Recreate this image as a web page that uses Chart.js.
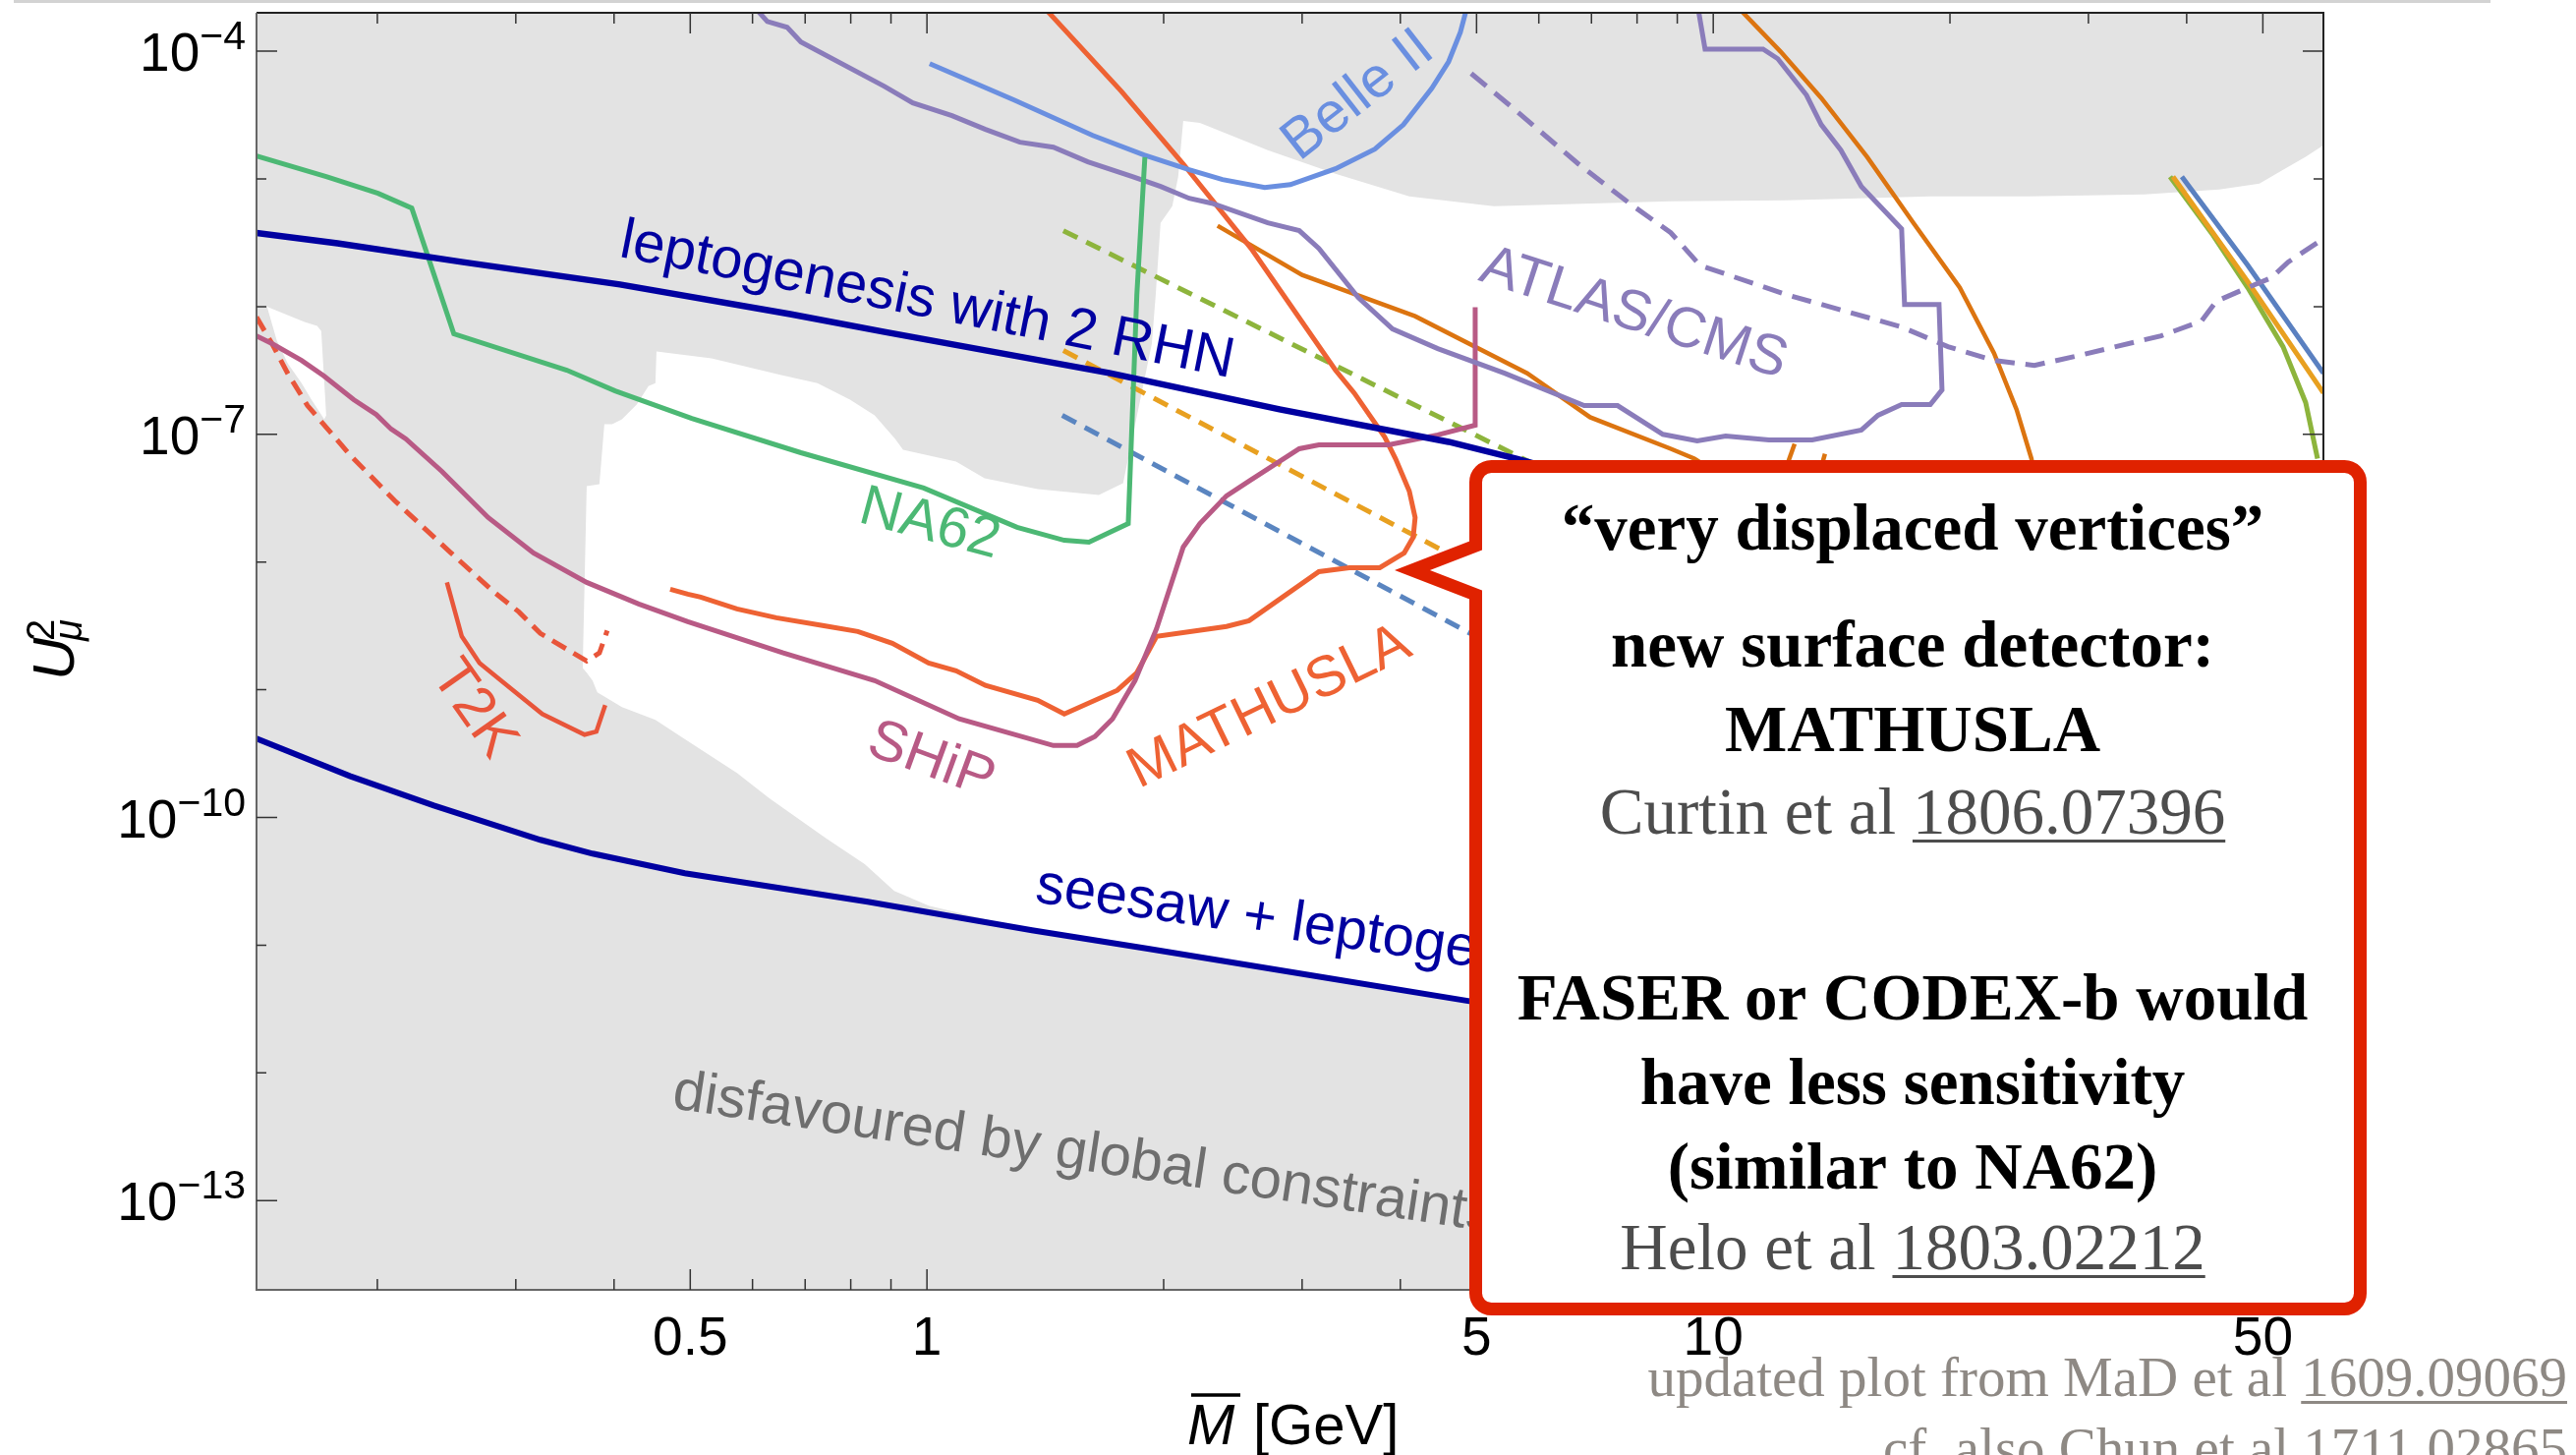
<!DOCTYPE html>
<html>
<head>
<meta charset="utf-8">
<script src="https://cdn.jsdelivr.net/npm/chart.js@4.4.1/dist/chart.umd.min.js"></script>
<style>
html, body { margin: 0; padding: 0; background: #fff; }
canvas { display: block; }
</style>
</head>
<body>
<canvas id="chart" width="2621" height="1480"></canvas>
<script>
// mass M in GeV, mixing U_mu^2

var leptoM = [0.1404, 0.178, 0.257, 0.407, 0.670, 0.883, 1.711, 2.808, 4.607, 5.62, 8.83];
var leptoU = [3.78e-6, 3.13e-6, 2.23e-6, 1.49e-6, 8.73e-7, 6.34e-7, 3.01e-7, 1.57e-7, 8.73e-8, 6.45e-8, 3.01e-8];

var seesawM = [0.1404, 0.1845, 0.236, 0.3224, 0.3756, 0.4921, 0.8407, 1.36, 1.91, 3.185, 4.876, 6.62];
var seesawU = [4.15e-10, 2.11e-10, 1.24e-10, 6.68e-11, 5.21e-11, 3.66e-11, 2.19e-11, 1.31e-11, 9.37e-12, 5.61e-12, 3.66e-12, 2.76e-12];

var na62M = [0.1404, 0.1726, 0.2004, 0.2212, 0.2502, 0.3483, 0.4013, 0.5023, 0.6914, 0.9905, 1.302, 1.495, 1.607, 1.803, 1.849, 1.893];
var na62U = [1.51e-5, 1.04e-5, 7.71e-6, 5.91e-6, 6.12e-7, 3.18e-7, 2.19e-7, 1.33e-7, 7.18e-8, 3.80e-8, 1.87e-8, 1.48e-8, 1.43e-8, 2.00e-8, 1.24e-6, 1.48e-5];

var belleM = [1.008, 1.291, 1.625, 1.888, 2.155, 2.376, 2.689, 2.898, 3.308, 3.712, 4.036, 4.386, 4.607, 4.769, 4.87];
var belleU = [7.99e-5, 4.15e-5, 2.19e-5, 1.54e-5, 1.18e-5, 9.89e-6, 8.57e-6, 9.03e-6, 1.20e-5, 1.71e-5, 2.66e-5, 5.13e-5, 8.28e-5, 1.41e-4, 2.3e-4];

var atlasM = [0.60, 0.6266, 0.6641, 0.6914, 0.8829, 0.9594, 1.076, 1.187, 1.313, 1.448, 1.602, 1.829, 1.982, 2.155, 2.302, 2.713, 2.975, 3.151, 3.535, 3.909, 4.463, 5.428, 6.852, 7.556, 8.629, 9.541, 10.37, 11.77, 13.36, 15.43, 16.20, 17.36, 18.88, 19.54, 19.37, 17.51, 17.36, 15.43, 14.53, 13.72, 13.14, 12.08, 11.57, 9.763, 9.55];
var atlasU = [2.3e-4, 1.71e-4, 1.54e-4, 1.18e-4, 5.31e-5, 3.94e-5, 3.13e-5, 2.44e-5, 1.94e-5, 1.77e-5, 1.36e-5, 1.04e-5, 8.73e-6, 7.05e-6, 6.45e-6, 4.53e-6, 3.94e-6, 2.86e-6, 1.18e-6, 6.69e-7, 4.69e-7, 3.01e-7, 1.68e-7, 1.68e-7, 1.00e-7, 8.87e-8, 9.70e-8, 9.04e-8, 9.04e-8, 1.08e-7, 1.41e-7, 1.71e-7, 1.71e-7, 2.23e-7, 1.04e-6, 1.04e-6, 4.07e-6, 8.73e-6, 1.68e-5, 2.66e-5, 4.53e-5, 8.73e-5, 1.04e-4, 1.04e-4, 2.3e-4];

var atlasDashM = [4.922, 5.618, 6.737, 7.823, 8.830, 9.541, 9.763, 12.40, 17.36, 19.88, 22.76, 25.61, 28.82, 37.12, 41.78, 43.62, 47.83, 51.25, 53.82, 59.7];
var atlasDashU = [6.69e-5, 3.41e-5, 1.31e-5, 6.45e-6, 3.79e-6, 2.23e-6, 2.04e-6, 1.24e-6, 6.93e-7, 4.86e-7, 3.79e-7, 3.47e-7, 4.07e-7, 5.91e-7, 7.71e-7, 1.10e-6, 1.41e-6, 1.68e-6, 2.23e-6, 3.41e-6];

var shipM = [0.1404, 0.1469, 0.1602, 0.1711, 0.1866, 0.1994, 0.2082, 0.2174, 0.2416, 0.2767, 0.3159, 0.3692, 0.43, 0.4965, 0.6565, 0.858, 1.099, 1.448, 1.552, 1.635, 1.722, 1.839, 1.959, 2.118, 2.224, 2.404, 2.568, 2.975, 3.151, 3.865, 4.463, 4.980, 4.980];
var shipU = [5.9e-7, 5.13e-7, 3.79e-7, 2.86e-7, 1.87e-7, 1.43e-7, 1.10e-7, 9.21e-8, 5.13e-8, 2.23e-8, 1.18e-8, 6.93e-9, 4.70e-9, 3.41e-9, 1.94e-9, 1.18e-9, 5.92e-10, 3.66e-10, 3.66e-10, 4.30e-10, 5.92e-10, 1.18e-9, 3.01e-9, 1.31e-8, 2.00e-8, 3.30e-8, 4.30e-8, 7.71e-8, 8.28e-8, 8.28e-8, 9.89e-8, 1.18e-7, 9.89e-7];

var mathM = [0.4715, 0.4965, 0.5155, 0.5733, 0.6433, 0.7366, 0.8168, 0.9034, 1.005, 1.089, 1.187, 1.383, 1.495, 1.746, 1.849, 1.959, 2.404, 2.568, 3.151, 3.444, 3.766, 4.046, 4.153, 4.177, 4.106, 3.944, 3.821, 3.494, 3.308, 2.583, 2.118, 1.767, 1.40];
var mathU = [6.12e-9, 5.60e-9, 5.31e-9, 4.30e-9, 3.66e-9, 3.18e-9, 2.86e-9, 2.31e-9, 1.62e-9, 1.41e-9, 1.08e-9, 8.28e-10, 6.45e-10, 9.89e-10, 1.36e-9, 2.62e-9, 3.13e-9, 3.47e-9, 8.41e-9, 9.03e-9, 9.03e-9, 1.18e-8, 1.56e-8, 2.23e-8, 3.60e-8, 6.45e-8, 9.53e-8, 2.11e-7, 3.18e-7, 2.86e-6, 1.31e-5, 4.86e-5, 2.3e-4];

var t2kM = [0.2452, 0.2561, 0.2698, 0.2873, 0.3242, 0.3669, 0.3798, 0.3898];
var t2kU = [6.93e-9, 2.62e-9, 1.62e-9, 1.18e-9, 6.45e-10, 4.45e-10, 4.70e-10, 7.57e-10];

var t2kDashM = [0.1404, 0.1469, 0.1538, 0.163, 0.1845, 0.2106, 0.2481, 0.2816, 0.3027, 0.3224, 0.3692, 0.3832, 0.3921];
var t2kDashU = [8.28e-7, 5.13e-7, 3.01e-7, 1.68e-7, 6.93e-8, 3.01e-8, 1.18e-8, 5.81e-9, 4.07e-9, 2.76e-9, 1.68e-9, 1.94e-9, 2.91e-9];

var greenDashM = [1.491, 6.62];
var greenDashU = [3.93e-6, 4.15e-8];
var orangeDashM = [1.491, 5.90];
var orangeDashU = [4.53e-7, 5.22e-9];
var blueDashM = [1.486, 5.90];
var blueDashU = [1.41e-7, 1.51e-9];

var farBlueM = [39.44, 47.83, 59.7];
var farBlueU = [1.04e-5, 2.11e-6, 3.01e-7];
var farOrangeM = [38.43, 47.83, 59.7];
var farOrangeU = [1.04e-5, 1.57e-6, 2.11e-7];
var farGreenM = [38.10, 43.24, 47.83, 53.04, 56.68, 58.68];
var farGreenU = [1.04e-5, 3.60e-6, 1.41e-6, 4.86e-7, 1.77e-7, 6.45e-8];

var darkOrAM = [10.68, 12.19, 13.72, 15.70, 17.97, 20.58, 22.76, 24.31, 25.39, 26.36];
var darkOrAU = [2.3e-4, 9.87e-5, 4.30e-5, 1.48e-5, 4.53e-6, 1.41e-6, 4.30e-7, 1.56e-7, 6.45e-8, 1.77e-8];
var darkOrBM = [2.342, 3.000, 4.177, 5.800, 6.972, 8.83, 9.46, 10.49];
var darkOrBU = [4.30e-6, 1.77e-6, 8.41e-7, 3.01e-7, 1.36e-7, 7.71e-8, 6.45e-8, 4.30e-8];
var stubAM = [12.69, 12.33];
var stubAU = [8.41e-8, 5.13e-8];
var stubBM = [13.87, 13.67];
var stubBU = [7.05e-8, 5.13e-8];

// allowed (white) region: upper and lower edge, both running left to right
var allowTopM = [0.3649, 0.3692, 0.3832, 0.3888, 0.3978, 0.4094, 0.4274, 0.4424, 0.4515, 0.4529, 0.5321, 0.6527, 0.7257, 0.7982, 0.858, 0.9112, 0.9324, 1.089, 1.184, 1.383, 1.654, 1.776, 1.839, 1.932, 1.954, 1.982, 2.051, 2.087, 2.118, 2.224, 2.713, 3.308, 4.106, 5.259, 8.830, 12.37, 18.88, 25.17, 35.35, 44.0, 49.5, 53.04, 56.68, 60];
var allowTopU = [1.48e-9, 3.93e-8, 4.07e-8, 1.20e-7, 1.20e-7, 1.31e-7, 1.71e-7, 2.39e-7, 2.52e-7, 4.45e-7, 3.94e-7, 2.91e-7, 2.52e-7, 1.87e-7, 1.41e-7, 9.21e-8, 7.57e-8, 6.12e-8, 4.53e-8, 3.72e-8, 3.35e-8, 4.15e-8, 1.18e-7, 5.13e-7, 1.24e-6, 4.53e-6, 6.12e-6, 1.04e-5, 2.85e-5, 2.75e-5, 1.68e-5, 1.10e-5, 7.31e-6, 6.12e-6, 6.68e-6, 6.81e-6, 7.31e-6, 7.31e-6, 7.57e-6, 8.28e-6, 9.21e-6, 1.18e-5, 1.49e-5, 1.87e-5];
var allowBotM = [0.3649, 0.3692, 0.3756, 0.3809, 0.4094, 0.4515, 0.4865, 0.5733, 0.6303, 0.7428, 0.8335, 0.9087, 1.005, 1.36, 1.91, 3.185, 4.876, 6.62, 60];
var allowBotU = [1.48e-9, 1.36e-9, 1.18e-9, 9.53e-10, 7.31e-10, 5.81e-10, 4.30e-10, 2.23e-10, 1.41e-10, 6.93e-11, 4.30e-11, 2.66e-11, 2.04e-11, 1.31e-11, 9.37e-12, 5.61e-12, 3.66e-12, 2.76e-12, 5e-13];
var stripTopM = [0.1448, 0.1616, 0.1677, 0.1697, 0.1722];
var stripTopU = [1.00e-6, 7.57e-7, 7.05e-7, 6.45e-7, 1.41e-7];
var stripBotM = [0.1448, 0.1490, 0.1538, 0.1602, 0.1649, 0.1712, 0.1722];
var stripBotU = [1.00e-6, 5.41e-7, 3.60e-7, 2.52e-7, 1.87e-7, 1.31e-7, 1.41e-7];

// ticks
var xMajor = [0.5, 1, 5, 10, 50];
var xMajorText = ['0.5', '1', '5', '10', '50'];
var xMinor = [0.2, 0.3, 0.4, 0.6, 0.7, 0.8, 0.9, 2, 3, 4, 6, 7, 8, 9, 20, 30, 40];
var yTickExp = [-4, -5, -6, -7, -8, -9, -10, -11, -12, -13];
var yLabelExp = [-4, -7, -10, -13];

var SANS = '"Liberation Sans", Arial, Helvetica, sans-serif';
var SERIF = '"Liberation Serif", "Times New Roman", serif';

var notes = [
  { text: 'leptogenesis with 2 RHN', m: 0.4047, u: 2.48e-6, angle: 11.2, color: '#0000a0' },
  { text: 'seesaw + leptogenesis', m: 1.368, u: 2.19e-11, angle: 8.4, color: '#0000a0' },
  { text: 'disfavoured by global constraints', m: 0.4728, u: 5.31e-13, angle: 8.6, color: '#6e6e6e' },
  { text: 'NA62', m: 0.8145, u: 2.08e-8, angle: 15, color: '#4cb874' },
  { text: 'SHiP', m: 0.8335, u: 3.18e-10, angle: 20, color: '#b85a85' },
  { text: 'MATHUSLA', m: 1.86, u: 1.68e-10, angle: -26, color: '#ee6233' },
  { text: 'T2K', m: 0.265, u: 7.05e-10, angle: 55, color: '#e8553a', center: true },
  { text: 'Belle II', m: 2.975, u: 1.36e-5, angle: -38, color: '#6a8fe0' },
  { text: 'ATLAS/CMS', m: 5.008, u: 1.62e-6, angle: 18, color: '#8a7cba' }
];

function pts(m, u) {
  return m.map(function (v, i) { return { x: v, y: u[i] }; });
}

function curve(label, m, u, color, width, dash) {
  return {
    label: label,
    data: pts(m, u),
    showLine: true,
    borderColor: color,
    borderWidth: width,
    borderDash: dash || [],
    pointRadius: 0,
    fill: false,
    order: 1
  };
}

function edge(label, m, u, fill) {
  return {
    label: label,
    data: pts(m, u),
    showLine: true,
    borderColor: 'rgba(0,0,0,0)',
    borderWidth: 1,
    pointRadius: 0,
    backgroundColor: '#ffffff',
    fill: fill,
    order: 10
  };
}

var plotDecor = {
  id: 'plotDecor',
  beforeDatasetsDraw: function (chart) {
    var a = chart.chartArea, c = chart.ctx;
    c.save();
    c.fillStyle = '#e3e3e3';
    c.fillRect(a.left, a.top, a.right - a.left, a.bottom - a.top);
    c.restore();
  },
  afterDatasetsDraw: function (chart) {
    var a = chart.chartArea, c = chart.ctx;
    var xs = chart.scales.x, ys = chart.scales.y;

    // curve labels
    notes.forEach(function (n) {
      c.save();
      c.translate(xs.getPixelForValue(n.m), ys.getPixelForValue(n.u));
      c.rotate(n.angle * Math.PI / 180);
      c.font = '58px ' + SANS;
      c.fillStyle = n.color;
      c.textAlign = n.center ? 'center' : 'left';
      c.textBaseline = n.center ? 'middle' : 'alphabetic';
      c.fillText(n.text, 0, 0);
      c.restore();
    });

    // frame
    c.save();
    c.lineWidth = 2;
    c.strokeStyle = '#222';
    c.beginPath();
    c.moveTo(a.left, a.top); c.lineTo(a.right, a.top); c.lineTo(a.right, a.bottom);
    c.stroke();
    c.strokeStyle = '#666';
    c.beginPath();
    c.moveTo(a.left, a.top); c.lineTo(a.left, a.bottom); c.lineTo(a.right, a.bottom);
    c.stroke();

    // ticks on all four sides
    c.lineWidth = 1.5;
    c.strokeStyle = '#333';
    function tx(v, len) {
      var p = xs.getPixelForValue(v);
      c.beginPath();
      c.moveTo(p, a.bottom); c.lineTo(p, a.bottom - len);
      c.moveTo(p, a.top); c.lineTo(p, a.top + len);
      c.stroke();
    }
    xMajor.forEach(function (v) { tx(v, 21); });
    xMinor.forEach(function (v) { tx(v, 11); });
    yTickExp.forEach(function (e) {
      var p = ys.getPixelForValue(Math.pow(10, e));
      var len = yLabelExp.indexOf(e) >= 0 ? 21 : 10;
      c.beginPath();
      c.moveTo(a.left, p); c.lineTo(a.left + len, p);
      c.moveTo(a.right, p); c.lineTo(a.right - len, p);
      c.stroke();
    });

    // tick labels
    c.fillStyle = '#000';
    c.font = '55px ' + SANS;
    c.textAlign = 'center';
    c.textBaseline = 'alphabetic';
    xMajor.forEach(function (v, i) {
      c.fillText(xMajorText[i], xs.getPixelForValue(v), a.bottom + 66);
    });
    yLabelExp.forEach(function (e) {
      var p = ys.getPixelForValue(Math.pow(10, e));
      var ex = '\u2212' + Math.abs(e);
      c.font = '41px ' + SANS;
      var we = c.measureText(ex).width;
      c.font = '55px ' + SANS;
      var wb = c.measureText('10').width;
      var x0 = a.left - 11 - we - wb;
      c.textAlign = 'left';
      c.fillText('10', x0, p + 20);
      c.font = '41px ' + SANS;
      c.fillText(ex, x0 + wb, p - 2);
    });

    // axis titles
    c.textAlign = 'left';
    c.font = 'italic 58px ' + SANS;
    c.fillText('M', 1208, 1469);
    c.lineWidth = 3.5;
    c.strokeStyle = '#000';
    c.beginPath();
    c.moveTo(1212, 1419); c.lineTo(1262, 1419);
    c.stroke();
    c.font = '58px ' + SANS;
    c.fillText('[GeV]', 1275, 1469);

    c.save();
    c.translate(75, 692);
    c.rotate(-Math.PI / 2);
    c.font = 'italic 60px ' + SANS;
    c.fillText('U', 0, 0);
    c.font = '40px ' + SANS;
    c.fillText('2', 40, -20);
    c.font = 'italic 40px ' + SANS;
    c.fillText('\u03bc', 40, 8);
    c.restore();
    c.restore();
  },
  afterDraw: function (chart) {
    var c = chart.ctx;
    c.save();
    // slide rule at the very top
    c.fillStyle = '#d3d3d3';
    c.fillRect(14, 0, 2520, 3);

    // call-out box with pointer
    var L = 1501.5, R = 2401.5, T = 474.5, B = 1331.5, r = 16;
    c.beginPath();
    c.moveTo(L + r, T);
    c.lineTo(R - r, T);
    c.arcTo(R, T, R, T + r, r);
    c.lineTo(R, B - r);
    c.arcTo(R, B, R - r, B, r);
    c.lineTo(L + r, B);
    c.arcTo(L, B, L, B - r, r);
    c.lineTo(L, 605);
    c.lineTo(1437, 580);
    c.lineTo(L, 555);
    c.lineTo(L, T + r);
    c.arcTo(L, T, L + r, T, r);
    c.closePath();
    c.fillStyle = '#fff';
    c.fill();
    c.lineWidth = 13;
    c.lineJoin = 'miter';
    c.miterLimit = 10;
    c.strokeStyle = '#e02200';
    c.stroke();

    var boxLines = [
      { t: '\u201cvery displaced vertices\u201d', y: 559, bold: true },
      { t: 'new surface detector:', y: 678, bold: true },
      { t: 'MATHUSLA', y: 764, bold: true },
      { t: 'Curtin et al ', link: '1806.07396', y: 848 },
      { t: 'FASER or CODEX-b would', y: 1037, bold: true },
      { t: 'have less sensitivity', y: 1123, bold: true },
      { t: '(similar to NA62)', y: 1209, bold: true },
      { t: 'Helo et al ', link: '1803.02212', y: 1291 }
    ];
    var cx = 1946;
    c.textBaseline = 'alphabetic';
    boxLines.forEach(function (l) {
      c.font = (l.bold ? 'bold ' : '') + '67px ' + SERIF;
      c.fillStyle = l.bold ? '#000' : '#4d4d4d';
      if (!l.link) {
        c.textAlign = 'center';
        c.fillText(l.t, cx, l.y);
        return;
      }
      var w1 = c.measureText(l.t).width, w2 = c.measureText(l.link).width;
      var x0 = cx - (w1 + w2) / 2;
      c.textAlign = 'left';
      c.fillText(l.t, x0, l.y);
      c.fillText(l.link, x0 + w1, l.y);
      c.fillRect(x0 + w1, l.y + 6, w2, 3);
    });

    // source note, bottom right
    c.font = '57px ' + SERIF;
    c.fillStyle = '#8e8984';
    var notesRight = [
      { t: 'updated plot from MaD et al ', link: '1609.09069', y: 1420 },
      { t: 'cf. also Chun et al ', link: '1711.02865', y: 1492 }
    ];
    notesRight.forEach(function (l) {
      var w1 = c.measureText(l.t).width, w2 = c.measureText(l.link).width;
      var x0 = 2612 - w1 - w2;
      c.textAlign = 'left';
      c.fillText(l.t, x0, l.y);
      c.fillText(l.link, x0 + w1, l.y);
      c.fillRect(x0 + w1, l.y + 5, w2, 3);
    });
    c.restore();
  }
};

var config = {
  type: 'scatter',
  data: {
    datasets: [
      edge('allowed', allowTopM, allowTopU, '+1'),
      edge('allowed lower edge', allowBotM, allowBotU, false),
      edge('allowed strip', stripTopM, stripTopU, '+1'),
      edge('allowed strip lower edge', stripBotM, stripBotU, false),
      curve('leptogenesis with 2 RHN', leptoM, leptoU, '#0000a0', 6.5),
      curve('seesaw + leptogenesis', seesawM, seesawU, '#0000a0', 6),
      curve('NA62', na62M, na62U, '#4cb874', 5),
      curve('Belle II', belleM, belleU, '#6a8fe0', 5),
      curve('ATLAS/CMS', atlasM, atlasU, '#8a7cba', 5),
      curve('ATLAS/CMS projected', atlasDashM, atlasDashU, '#8a7cba', 5, [20, 11]),
      curve('SHiP', shipM, shipU, '#b85a85', 5),
      curve('MATHUSLA', mathM, mathU, '#ee6233', 5),
      curve('T2K', t2kM, t2kU, '#e8553a', 4.5),
      curve('T2K projected', t2kDashM, t2kDashU, '#e8553a', 5, [16, 9]),
      curve('dashed green', greenDashM, greenDashU, '#8db43c', 5, [16, 10]),
      curve('dashed orange', orangeDashM, orangeDashU, '#e8a020', 5, [16, 10]),
      curve('dashed blue', blueDashM, blueDashU, '#5a85c0', 5, [16, 10]),
      curve('far blue', farBlueM, farBlueU, '#5a80c0', 5),
      curve('far orange', farOrangeM, farOrangeU, '#e8a020', 5),
      curve('far green', farGreenM, farGreenU, '#8db43c', 5),
      curve('orange A', darkOrAM, darkOrAU, '#dc7410', 4.5),
      curve('orange B', darkOrBM, darkOrBU, '#dc7410', 4.5),
      curve('orange stub A', stubAM, stubAU, '#dc7410', 4.5),
      curve('orange stub B', stubBM, stubBU, '#dc7410', 4.5)
    ]
  },
  options: {
    responsive: false,
    animation: false,
    devicePixelRatio: 1,
    layout: { padding: { top: 13, right: 257, left: 0, bottom: 0 } },
    elements: { line: { tension: 0 }, point: { radius: 0 } },
    plugins: {
      legend: { display: false },
      tooltip: { enabled: false },
      filler: { propagate: false }
    },
    scales: {
      x: {
        type: 'logarithmic',
        position: 'bottom',
        min: 0.1404,
        max: 59.7,
        ticks: { display: false },
        grid: { display: false },
        border: { display: false },
        afterFit: function (s) { s.height = 168; }
      },
      y: {
        type: 'logarithmic',
        position: 'left',
        min: 2e-14,
        max: 2e-4,
        ticks: { display: false },
        grid: { display: false },
        border: { display: false },
        afterFit: function (s) { s.width = 261; }
      }
    }
  },
  plugins: [plotDecor]
};

new Chart(document.getElementById('chart'), config);
</script>
</body>
</html>
